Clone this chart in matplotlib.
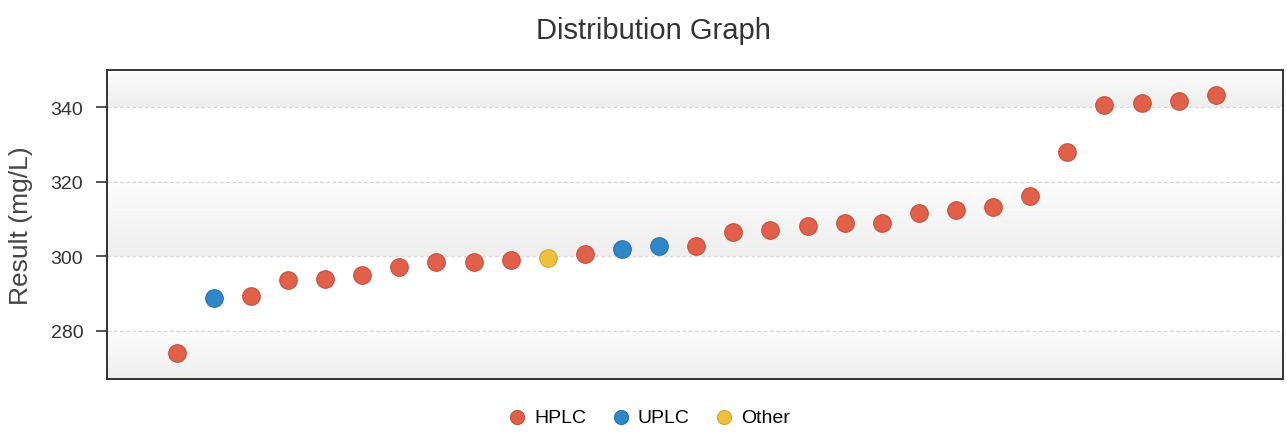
import matplotlib.pyplot as plt
import numpy as np

plt.rcParams["font.family"] = ["Liberation Sans", "DejaVu Sans"]

# values, in plotted order
results = [274.0, 288.7, 289.2, 293.5, 293.9, 295.0, 297.1, 298.4, 298.4, 299.0,
           299.5, 300.6, 301.8, 302.8, 302.8, 306.5, 307.0, 308.2, 308.8, 308.8,
           311.5, 312.4, 313.1, 316.2, 328.1, 340.7, 341.2, 341.6, 343.2]
methods = ["HPLC", "UPLC", "HPLC", "HPLC", "HPLC", "HPLC", "HPLC", "HPLC", "HPLC", "HPLC",
           "Other", "HPLC", "UPLC", "UPLC", "HPLC", "HPLC", "HPLC", "HPLC", "HPLC", "HPLC",
           "HPLC", "HPLC", "HPLC", "HPLC", "HPLC", "HPLC", "HPLC", "HPLC", "HPLC"]
y_ticks = [280, 300, 320, 340]

colors = {"HPLC": "#e2604a", "UPLC": "#2f86c9", "Other": "#efc03a"}
edges = {"HPLC": "#c4503c", "UPLC": "#2672ad", "Other": "#d4a82e"}

fig = plt.figure(figsize=(12.87, 4.39), dpi=100)
ax = fig.add_axes([0.0831, 0.1344, 0.9135, 0.7039])

ymin, ymax = 267, 350
ax.set_ylim(ymin, ymax)
ax.set_xlim(-1.88, 29.8)

# banded background with a soft vertical gradient
cmap = plt.matplotlib.colors.LinearSegmentedColormap.from_list("g", ["#eeeeee", "#fcfcfc"])
grad = np.linspace(0, 1, 64).reshape(-1, 1)
for lo, hi in [(ymin, 280), (300, 320), (340, ymax)]:
    ax.imshow(grad, extent=(-1.88, 29.8, lo, hi), aspect="auto", origin="lower",
              cmap=cmap, zorder=0)

for t in y_ticks:
    ax.axhline(t, color="#d6d6d6", lw=0.9, ls=(0, (3, 2)), zorder=1)

x = np.arange(len(results))
res = np.array(results)
meth = np.array(methods)
for m in ["HPLC", "UPLC", "Other"]:
    sel = meth == m
    ax.scatter(x[sel], res[sel], s=160, color=colors[m], edgecolors=edges[m],
               linewidths=0.8, zorder=3, label=m)

ax.set_yticks(y_ticks)
ax.set_xticks([])
ax.tick_params(axis="y", labelsize=14, length=8, width=1.2, pad=9,
               color="#333333", labelcolor="#333333")
for s in ax.spines.values():
    s.set_color("#333333")
    s.set_linewidth(1.4)

ax.set_ylabel("Result (mg/L)", fontsize=19, color="#444444", labelpad=13)
fig.suptitle("Distribution Graph", x=0.508, y=0.962, fontsize=21, color="#333333")

leg = fig.legend(loc="center", bbox_to_anchor=(0.504, 0.048), ncol=3, frameon=False,
                 fontsize=14, handlelength=1.0, handletextpad=0.38, columnspacing=1.25,
                 markerscale=0.8)

fig.savefig("out.png", dpi=100)
